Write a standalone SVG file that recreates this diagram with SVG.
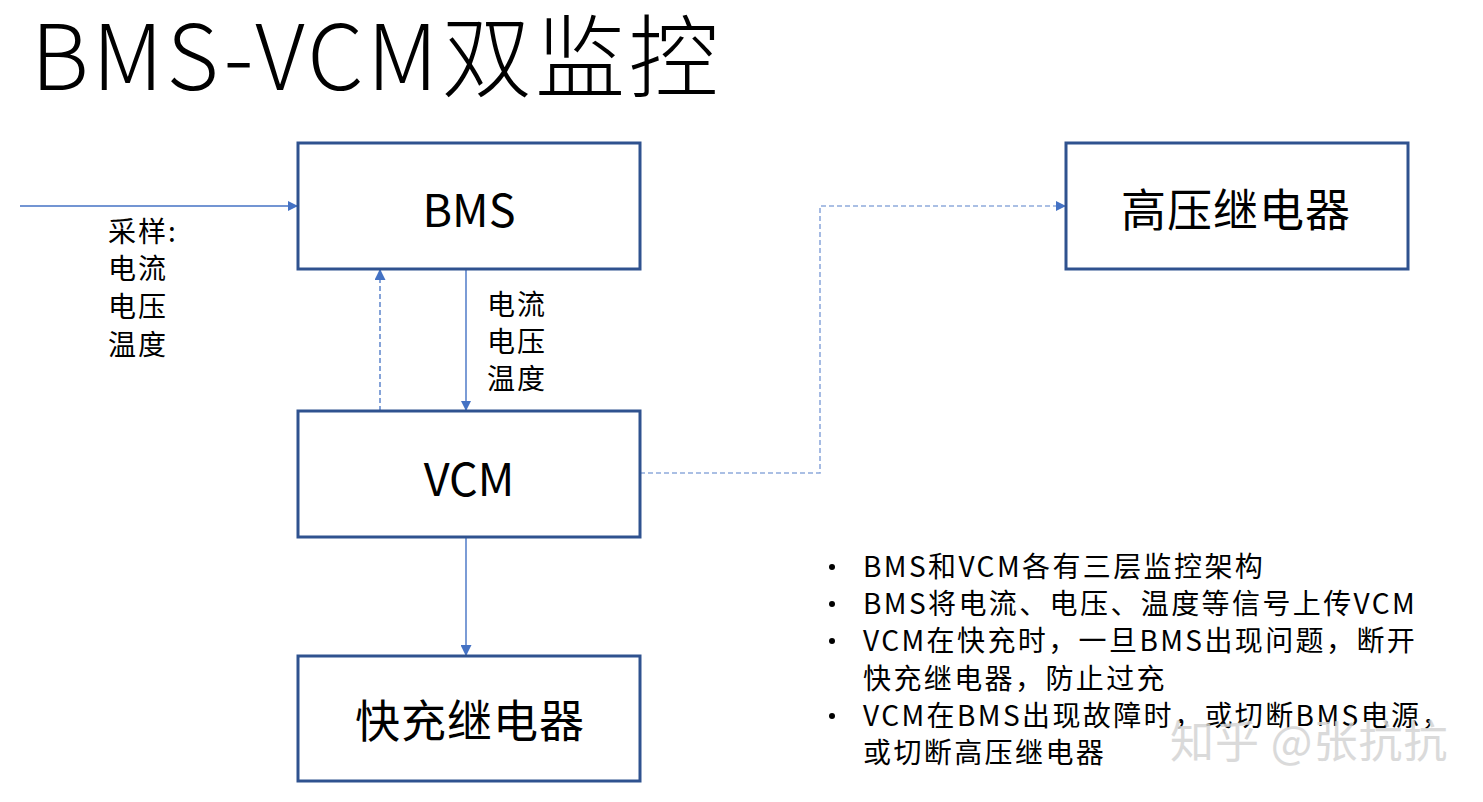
<svg xmlns="http://www.w3.org/2000/svg" width="1483" height="802" viewBox="0 0 1483 802">
<defs>
<marker id="ah" viewBox="0 0 10 10" refX="9" refY="5" markerWidth="10" markerHeight="10" markerUnits="userSpaceOnUse" orient="auto">
<path d="M0,0 L10,5 L0,10 Z" fill="#4472c4"/>
</marker>
<marker id="ah2" viewBox="0 0 10 10" refX="9" refY="5" markerWidth="11" markerHeight="11" markerUnits="userSpaceOnUse" orient="auto">
<path d="M0,0 L10,5 L0,10 Z" fill="#4472c4"/>
</marker>
</defs>
<style>
text{font-family:"Noto Sans CJK SC","Microsoft YaHei",sans-serif;fill:#000;}
.box{fill:#fff;stroke:#2f528f;stroke-width:3;}
.solid{stroke:#4472c4;stroke-width:1.4;fill:none;}
.dash{stroke:#4472c4;stroke-width:1.3;fill:none;stroke-dasharray:5,3;}
.dash2{stroke:#8faadc;stroke-width:1.6;fill:none;stroke-dasharray:5,3;}
.lbl{font-size:28px;letter-spacing:2px;}
.bul{font-size:28px;letter-spacing:2.4px;}
.node{font-size:45px;text-anchor:middle;dominant-baseline:central;}
</style>
<rect width="1483" height="802" fill="#fff"/>
<text x="31" y="90" font-size="90" font-weight="300" letter-spacing="3.5">BMS-VCM双监控</text>

<g id="connectors">
<line class="solid" x1="20" y1="206" x2="297" y2="206" marker-end="url(#ah)"/>
<line class="solid" x1="466" y1="269" x2="466" y2="410" marker-end="url(#ah)"/>
<line class="dash" x1="380" y1="411" x2="380" y2="270" marker-end="url(#ah2)"/>
<polyline class="dash2" points="640,473 820,473 820,206 1065,206" marker-end="url(#ah)"/>
<line class="solid" x1="466" y1="537" x2="466" y2="655" marker-end="url(#ah2)"/>
</g>

<g id="bms"><rect class="box" x="298" y="143" width="342" height="126"/><text class="node" x="469" y="207" font-size="40">BMS</text></g>
<g id="vcm"><rect class="box" x="298" y="411" width="342" height="126"/><text class="node" x="469" y="476" font-size="40">VCM</text></g>
<g id="fast-relay"><rect class="box" x="298" y="656" width="342" height="125"/><text class="node" x="470" y="718" letter-spacing="1">快充继电器</text></g>
<g id="hv-relay"><rect class="box" x="1066" y="143" width="342" height="126"/><text class="node" x="1236" y="207" letter-spacing="1">高压继电器</text></g>

<g id="sample-label" class="lbl">
<text x="108" y="242">采样:</text>
<text x="108" y="279">电流</text>
<text x="108" y="317">电压</text>
<text x="108" y="355">温度</text>
</g>
<g id="signal-label" class="lbl">
<text x="487" y="315">电流</text>
<text x="487" y="352">电压</text>
<text x="487" y="389">温度</text>
</g>

<g id="notes" class="bul">
<circle cx="832" cy="567" r="3" fill="#000"/>
<circle cx="832" cy="604" r="3" fill="#000"/>
<circle cx="832" cy="641" r="3" fill="#000"/>
<circle cx="832" cy="716" r="3" fill="#000"/>
<text x="863" y="577">BMS和VCM各有三层监控架构</text>
<text x="863" y="614">BMS将电流、电压、温度等信号上传VCM</text>
<text x="863" y="651">VCM在快充时，一旦BMS出现问题，断开</text>
<text x="863" y="689">快充继电器，防止过充</text>
<text x="863" y="726">VCM在BMS出现故障时，或切断BMS电源，</text>
<text x="863" y="763">或切断高压继电器</text>
</g>
<text x="1170" y="758" font-size="44" letter-spacing="1" style="fill:#d4d4d4;opacity:0.85">知乎 @张抗抗</text>
</svg>
